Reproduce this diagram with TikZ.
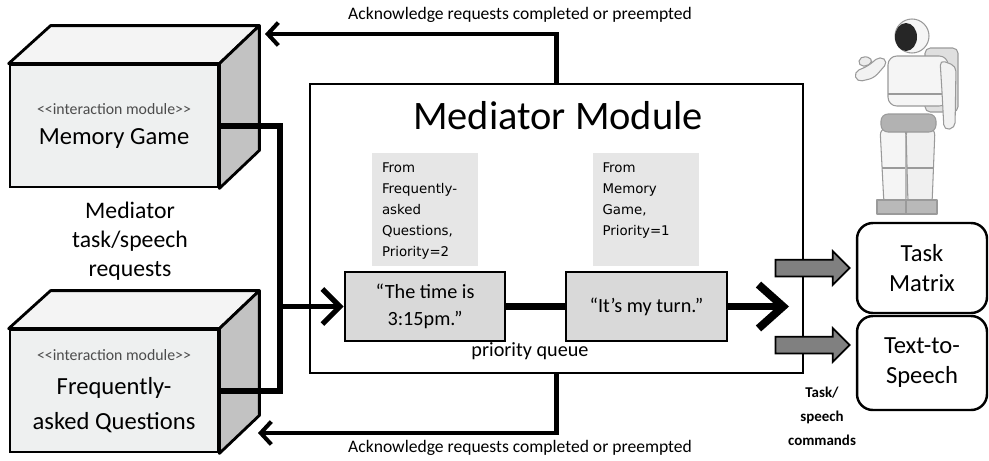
\documentclass[tikz,border=0pt]{standalone}
\usepackage{fontspec}
\setmainfont{Carlito}
\newfontfamily\notefont{DejaVu Sans}
\usetikzlibrary{calc,positioning,arrows.meta,shapes.arrows}

\definecolor{facegray}{HTML}{EEF0F0}
\definecolor{topgray}{HTML}{F4F4F4}
\definecolor{sidegray}{HTML}{C2C2C2}
\definecolor{notegray}{HTML}{E6E6E6}
\definecolor{msggray}{HTML}{D9D9D9}
\definecolor{arrowgray}{HTML}{808080}
\definecolor{robotline}{HTML}{9A9A9A}

\newcommand{\stereotype}{{\fontsize{9}{15}\selectfont\color{black!70}<{}<interaction module>{}>}}

\tikzset{
  x=0.02cm, y=-0.02cm,
  module/.style={draw=black, line width=1.6pt, fill=facegray, minimum width=4.16cm,
    minimum height=2.44cm, inner sep=0pt, align=center,
    font=\fontsize{14}{19}\selectfont},
  note/.style={fill=notegray, inner xsep=0.2cm, inner ysep=0.2cm,
    font=\notefont\fontsize{7.6}{11.9}\selectfont},
  msg/.style={draw=black, line width=1.5pt, fill=msggray, minimum height=1.38cm,
    align=center, font=\fontsize{11.5}{15}\selectfont},
  output/.style={draw=black, line width=1.4pt, rounded corners=9pt, fill=white,
    minimum width=2.6cm, align=center, font=\fontsize{14}{17}\selectfont},
  blockarrow/.style={single arrow, draw=black, line width=1pt, fill=arrowgray,
    minimum height=1.48cm, single arrow head extend=0.17cm, inner xsep=0pt,
    inner ysep=0.15cm, anchor=tip},
  req/.style={line width=3pt},
  queue/.style={line width=4.5pt},
  ack/.style={line width=2.3pt, -{Straight Barb[length=6pt,width=13pt]}},
  acklabel/.style={font=\fontsize{10}{11}\selectfont},
}

\begin{document}
\begin{tikzpicture}
  \useasboundingbox (0,0) rectangle (989,460);

  % interaction modules (front faces, then top and side)
  \node[module] (mg) at (114,126) {\stereotype\\[-2pt] Memory Game};
  \node[module] (faq) at (114,391) {\stereotype\\[0.5pt] Frequently-\\[1pt]asked Questions};
  \foreach \m in {mg,faq}{
    \draw[line width=1.6pt, fill=topgray, line join=round]
      (\m.north west) -- ($(\m.north west)+(42,-38)$) -- ($(\m.north east)+(40,-38)$)
      -- (\m.north east) -- cycle;
    \draw[line width=1.6pt, fill=sidegray, line join=round]
      (\m.north east) -- ($(\m.north east)+(40,-38)$) -- ($(\m.south east)+(40,-38)$)
      -- (\m.south east) -- cycle;
  }
  \node[font=\fontsize{13.5}{16.5}\selectfont, align=center] (reqs) at (130,241)
    {Mediator\\task/speech\\requests};

  % mediator
  \node[draw=black, line width=1.2pt, minimum width=9.86cm, minimum height=5.78cm]
    (med) at (556.5,228.5) {};
  \node[font=\fontsize{23}{25}\selectfont] (title) at (558,116) {Mediator Module};

  \node[note] (n1) at (425,209.5) {\begin{minipage}[t][1.86cm][t]{1.72cm}
    From\\Frequently-\\asked\\Questions,\\Priority=2\end{minipage}};
  \node[note] (n2) at (645.5,209.5) {\begin{minipage}[t][1.86cm][t]{1.72cm}
    From\\Memory\\Game,\\Priority=1\end{minipage}};

  \node[msg, minimum width=3.2cm] (q1) at (425,306.5) {“The time is\\3:15pm.”};
  \node[msg, minimum width=3.22cm] (q2) at (646.5,306.5) {“It’s my turn.”};
  \node[font=\fontsize{11.5}{13}\selectfont] (pq) at (530,351) {priority queue};

  % requests into the queue
  \coordinate (join) at (280,306.5);
  \draw[req, line cap=rect] (mg.east) -| (join);
  \draw[req, line cap=rect] (faq.east) -| (join);
  \draw[req, -{Straight Barb[length=10pt,width=20pt]}] (join) -- (q1.west);
  \draw[queue] (q1) -- (q2);
  \coordinate (qout) at (789,306.5);
  \draw[queue, -{Straight Barb[length=14pt,width=25pt]}] (q2.east) -- (qout);

  % acknowledgements back to the modules
  \coordinate (acktop) at (265,34);
  \coordinate (ackbot) at (258,433);
  \draw[ack] (med.north) |- (acktop);
  \draw[ack] (med.south) |- (ackbot);
  \node[acklabel] (ack1) at (520,15) {Acknowledge requests completed or preempted};
  \node[acklabel] (ack2) at (520,448) {Acknowledge requests completed or preempted};

  % robot side
  \node[output, minimum height=1.8cm] (tm) at (922,268) {Task\\Matrix};
  \node[output, minimum height=1.88cm] (tts) at (922,363) {Text-to-\\Speech};
  \node[blockarrow] (a1) at ($(tm.west)+(-5,0)$) {};
  \node[blockarrow] (a2) at ($(tts.west)+(-5,-18)$) {};
  \node[font=\bfseries\fontsize{8.5}{13.6}\selectfont, align=center] (cmds) at (822,416)
    {Task/\\speech\\commands};

  % the robot
  \begin{scope}[draw=robotline, line width=0.6pt, line join=round]
    % backpack
    \filldraw[fill=gray!25, rounded corners=3pt] (925,48) rectangle (958,112);
    % legs
    \filldraw[fill=gray!8, rounded corners=4pt] (880,128) -- (906,128) -- (906,205) -- (884,205) -- cycle;
    \filldraw[fill=gray!12, rounded corners=4pt] (906,128) -- (935,128) -- (932,205) -- (908,205) -- cycle;
    \draw (882,168) -- (905,168) (907,168) -- (933,168);
    \filldraw[fill=gray!55] (877,200) rectangle (908,214);
    \filldraw[fill=gray!55] (906,200) rectangle (937,214);
    % hips
    \filldraw[fill=gray!60, rounded corners=4pt] (881,114) rectangle (936,132);
    % torso
    \filldraw[fill=gray!8, rounded corners=5pt] (888,56) rectangle (948,106);
    \draw (888,94) -- (948,94);
    % arms
    \filldraw[fill=gray!10, rounded corners=3pt] (888,62) -- (874,78) -- (857,82) -- (854,72) -- (868,66) -- (880,56) -- cycle;
    \filldraw[fill=gray!15, rounded corners=3pt] (860,56) -- (873,58) -- (870,66) -- (858,66) -- cycle;
    \filldraw[fill=gray!10, rounded corners=3pt] (940,60) -- (956,66) -- (955,128) -- (944,130) -- (942,92) -- cycle;
    % head
    \filldraw[fill=gray!8] (912,36) circle (17);
    \fill[black!85] (906,37) ellipse (11 and 14);
  \end{scope}
\end{tikzpicture}
\end{document}
